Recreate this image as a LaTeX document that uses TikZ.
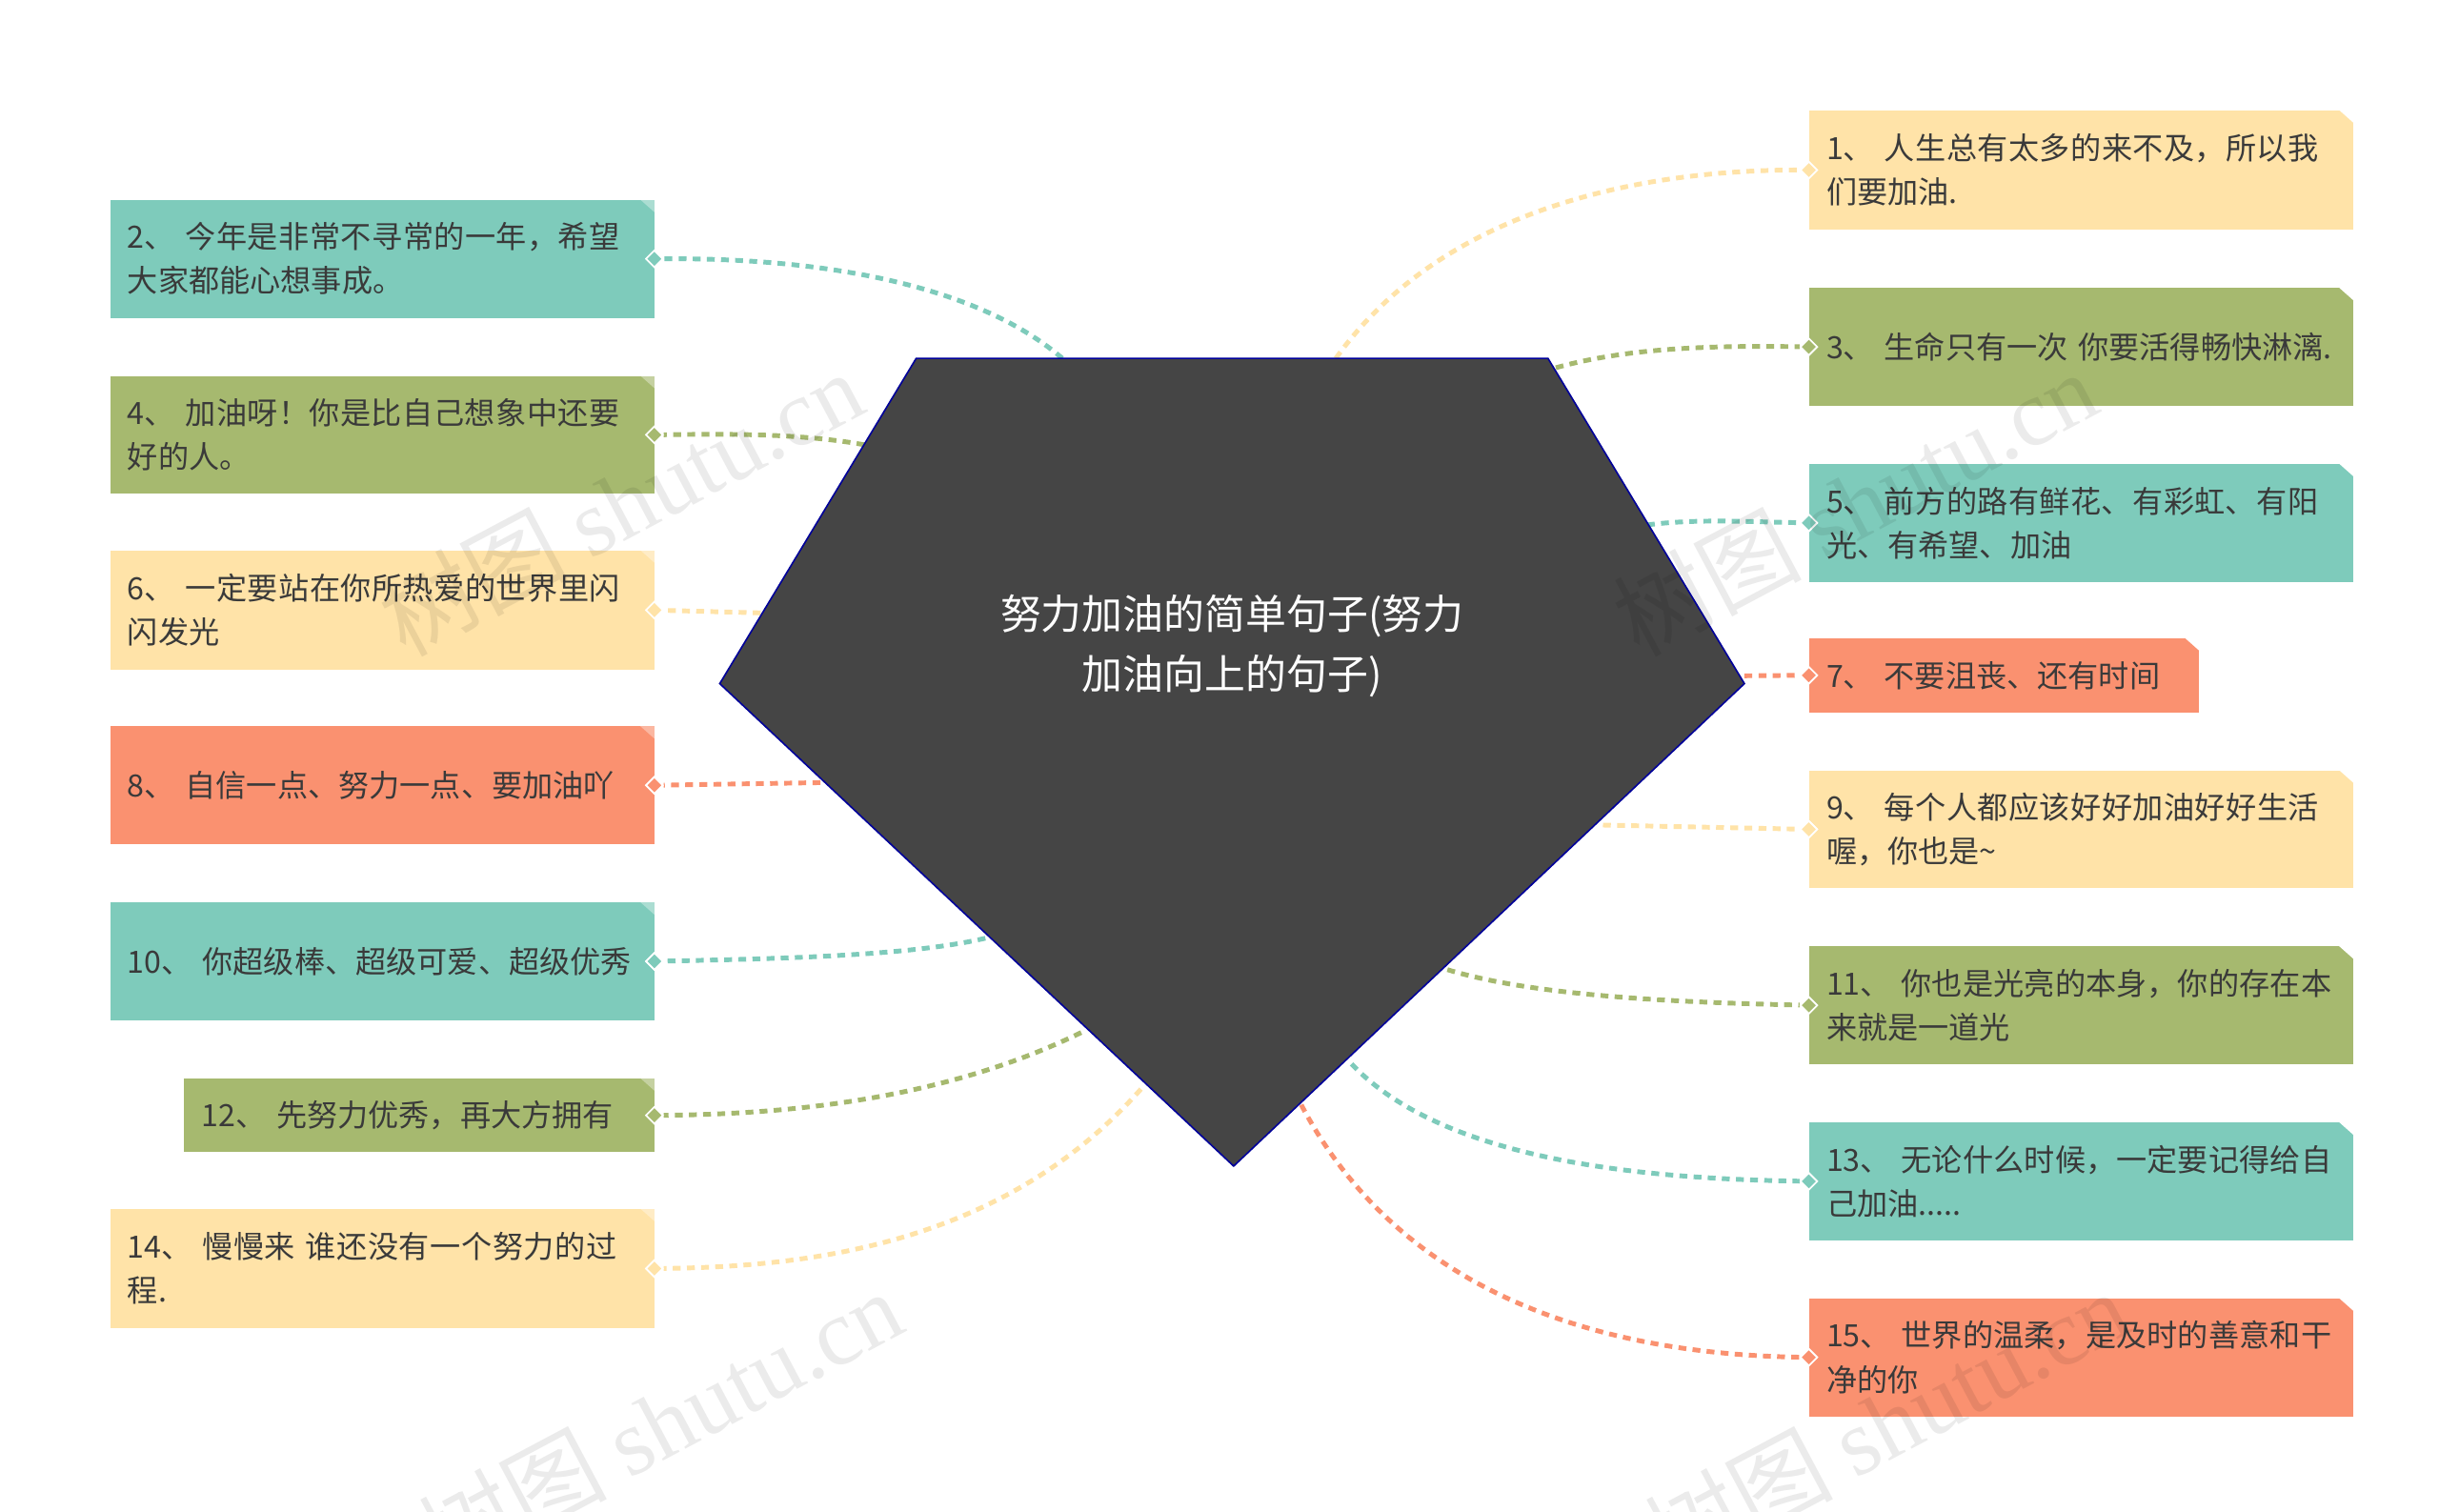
\documentclass[tikz,border=0pt]{standalone}
\usepackage{fontspec}
\setmainfont{Noto Sans CJK SC}
\newfontfamily\wmfont{Liberation Serif}
\newfontfamily\wmcjk{Noto Sans CJK SC}
\XeTeXlinebreaklocale "zh"
\XeTeXlinebreakskip=0pt plus 1pt
\usetikzlibrary{shapes.geometric}
\definecolor{cteal}{HTML}{7ECBBB}
\definecolor{cgreen}{HTML}{A6B96F}
\definecolor{cyel}{HTML}{FFE3A8}
\definecolor{corg}{HTML}{FA9170}
\definecolor{ctxt}{HTML}{3A3A3A}
\tikzset{
 box/.style={anchor=north west,minimum height=#1,inner xsep=11pt,inner ysep=6pt,text width=324pt,align=left,
   font=\fontsize{19.5}{28}\selectfont,text=ctxt},
 dia/.style={diamond,minimum size=11pt,inner sep=0pt,draw=white,line width=1pt,fill=#1},
 link/.style={draw=#1,dash pattern=on 5pt off 4pt,line width=3pt},
 wm/.style={text=black,opacity=0.08,font=\fontsize{60}{60}\selectfont,rotate=28}
}
\newcommand{\wmtext}{{\wmcjk 树图} {\wmfont shutu.cn}}
\begin{document}
\begin{tikzpicture}[x=1pt,y=-1pt]
\fill[white] (0,0) rectangle (1552,962);
\useasboundingbox (0,0) rectangle (1552,962);
\coordinate (tl) at (583,228); \coordinate (tr) at (985,228);
\coordinate (rr) at (1110,435); \coordinate (bb) at (785,742); \coordinate (ll) at (458,435);
\newcommand{\lbox}[6]{%
 \node[box=#3,fill=#4] (#1) at (#6,#2) {#5};
 \fill[white,opacity=0.35] (#1.north east) -- ++(-9,0) -- ++(9,8) -- cycle;
 \node[dia=#4] (#1d) at (#1.east) {};}
\newcommand{\rbox}[5]{%
 \node[box=#3,fill=#4] (#1) at (1151,#2) {#5};
 \fill[white] (#1.north east) -- ++(-9,0) -- ++(9,8) -- cycle;
 \node[dia=#4] (#1d) at (#1.west) {};}
\coordinate (p2) at (676,228); \coordinate (p4) at (550,283); \coordinate (p6) at (484,390);
\coordinate (p8) at (522,498); \coordinate (p10) at (627,597); \coordinate (p12) at (688,657);
\coordinate (p14) at (726,693);
\coordinate (p1) at (850,228); \coordinate (p3) at (990,234); \coordinate (p5) at (1048,334);
\coordinate (p7) at (1110,430); \coordinate (p9) at (1020,525); \coordinate (p11) at (921,617);
\coordinate (p13) at (860,677); \coordinate (p15) at (828,703);
\lbox{b2}{127}{75}{cteal}{2、 今年是非常不寻常的一年，希望大家都能心想事成。}{70}
\lbox{b4}{239}{75}{cgreen}{4、 加油呀！你是比自己想象中还要好的人。}{70}
\lbox{b6}{350}{76}{cyel}{6、 一定要站在你所热爱的世界里闪闪发光}{70}
\lbox{b8}{462}{75}{corg}{8、 自信一点、努力一点、要加油吖}{70}
\lbox{b10}{574}{75}{cteal}{10、 你超级棒、超级可爱、超级优秀}{70}
\node[box=47,fill=cgreen,text width=277pt] (b12) at (117,686) {12、 先努力优秀，再大方拥有};
\fill[white,opacity=0.35] (b12.north east) -- ++(-9,0) -- ++(9,8) -- cycle;
\node[dia=cgreen] (b12d) at (b12.east) {};
\lbox{b14}{769}{76}{cyel}{14、 慢慢来 谁还没有一个努力的过程.}{70}
\rbox{b1}{70}{76}{cyel}{1、 人生总有太多的来不及，所以我们要加油.}
\rbox{b3}{183}{75}{cgreen}{3、 生命只有一次 你要活得畅快淋漓.}
\rbox{b5}{295}{75}{cteal}{5、 前方的路有鲜花、有彩虹、有阳光、有希望、加油}
\node[box=47,fill=corg,text width=226pt] (b7) at (1151,406) {7、 不要沮丧、还有时间};
\fill[white] (b7.north east) -- ++(-9,0) -- ++(9,8) -- cycle;
\node[dia=corg] (b7d) at (b7.west) {};
\rbox{b9}{490}{75}{cyel}{9、 每个人都应该好好加油好好生活喔，你也是\char`~}
\rbox{b11}{602}{75}{cgreen}{11、 你也是光亮的本身，你的存在本来就是一道光}
\rbox{b13}{714}{75}{cteal}{13、 无论什么时候，一定要记得给自己加油.....}
\rbox{b15}{826}{75}{corg}{15、 世界的温柔，是及时的善意和干净的你}
\draw[link=cteal] (p2) .. controls (620,180) and (520,164) .. (b2d);
\draw[link=cgreen] (p4) .. controls (510,276) and (470,276) .. (b4d);
\draw[link=cyel] (p6) -- (b6d);
\draw[link=corg] (p8) -- (b8d);
\draw[link=cteal] (p10) .. controls (580,608) and (500,610) .. (b10d);
\draw[link=cgreen] (p12) .. controls (600,700) and (500,709) .. (b12d);
\draw[link=cyel] (p14) .. controls (640,790) and (520,806) .. (b14d);
\draw[link=cyel] (p1) .. controls (920,130) and (1050,108) .. (b1d);
\draw[link=cgreen] (p3) .. controls (1040,220) and (1100,220) .. (b3d);
\draw[link=cteal] (p5) .. controls (1080,330) and (1110,332) .. (b5d);
\draw[link=corg] (p7) -- (b7d);
\draw[link=cyel] (p9) -- (b9d);
\draw[link=cgreen] (p11) .. controls (980,635) and (1080,638) .. (b11d);
\draw[link=cteal] (p13) .. controls (920,740) and (1050,750) .. (b13d);
\draw[link=corg] (p15) .. controls (900,840) and (1050,862) .. (b15d);
\filldraw[fill=black!73,draw=blue!60!black,line width=1pt] (tl) -- (tr) -- (rr) -- (bb) -- (ll) -- cycle;
\node[text=white,font=\fontsize{26}{38}\selectfont,align=center] (c) at (784,411) {努力加油的简单句子(努力\\加油向上的句子)};
\foreach \n/\c in {b2/cteal,b4/cgreen,b6/cyel,b8/corg,b10/cteal,b12/cgreen,b14/cyel,b1/cyel,b3/cgreen,b5/cteal,b7/corg,b9/cyel,b11/cgreen,b13/cteal,b15/corg}
  \node[dia=\c] at (\n d) {};
\node[wm] (w1) at (395,320) {\wmtext};
\node[wm] (w2) at (1180,320) {\wmtext};
\node[wm] (w3) at (420,905) {\wmtext};
\node[wm] (w4) at (1200,905) {\wmtext};
\end{tikzpicture}
\end{document}
